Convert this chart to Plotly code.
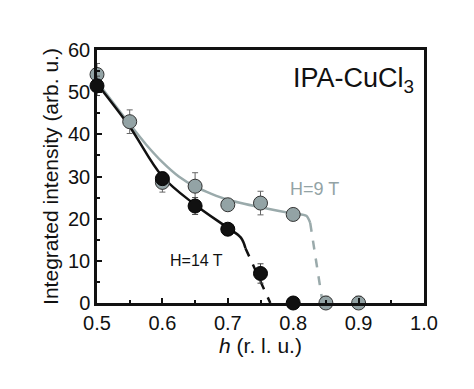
import plotly.graph_objects as go

# measured data
h9 = [0.5, 0.55, 0.6, 0.65, 0.7, 0.75, 0.8, 0.85, 0.9]
i9 = [54.2, 43.0, 28.6, 27.7, 23.3, 23.7, 21.0, 0.0, 0.0]
e9 = [2.6, 2.8, 2.3, 3.2, 1.0, 2.8, 1.3, 1.6, 1.6]

h14 = [0.5, 0.6, 0.65, 0.7, 0.75, 0.8]
i14 = [51.5, 29.5, 23.0, 17.5, 7.0, 0.0]
e14 = [2.3, 1.5, 2.0, 1.0, 2.3, 0.5]

# guide-to-the-eye curves
fit9_h = [0.5, 0.525, 0.55, 0.575, 0.6, 0.625, 0.65, 0.675, 0.7, 0.75, 0.8, 0.82, 0.826]
fit9_i = [52.5, 47.4, 42.4, 37.6, 33.4, 30.0, 27.6, 25.9, 24.5, 22.7, 21.2, 20.7, 19.0]
fit9d_h = [0.826, 0.845]
fit9d_i = [19.0, 0.0]

fit14_h = [0.5, 0.55, 0.6, 0.65, 0.7, 0.72, 0.727]
fit14_i = [52.0, 41.8, 30.0, 23.3, 17.8, 15.5, 13.0]
fit14d_h = [0.727, 0.765]
fit14d_i = [13.0, 0.0]

xticks = [0.5, 0.6, 0.7, 0.8, 0.9, 1.0]
xticklabels = ["0.5", "0.6", "0.7", "0.8", "0.9", "1.0"]
yticks = [0, 10, 20, 30, 40, 50, 60]

GRAY = "#93a3a5"
GRAYLINE = "#9aaaab"

fig = go.Figure()
fig.add_trace(go.Scatter(x=fit9_h, y=fit9_i, mode="lines", line=dict(color=GRAYLINE, width=2.5, shape="spline", smoothing=0.8), hoverinfo="skip"))
fig.add_trace(go.Scatter(x=fit9d_h, y=fit9d_i, mode="lines", line=dict(color=GRAYLINE, width=2.5, dash="dash"), hoverinfo="skip"))
fig.add_trace(go.Scatter(x=fit14_h, y=fit14_i, mode="lines", line=dict(color="#111111", width=2.5, shape="spline"), hoverinfo="skip"))
fig.add_trace(go.Scatter(x=fit14d_h, y=fit14d_i, mode="lines", line=dict(color="#111111", width=2.5, dash="dash"), hoverinfo="skip"))

fig.add_trace(go.Scatter(
    x=h9, y=i9, mode="markers", cliponaxis=False,
    marker=dict(size=14, color=GRAY, line=dict(color="#333333", width=1)),
    error_y=dict(type="data", array=e9, color="#666666", thickness=1, width=3)))
fig.add_trace(go.Scatter(
    x=h14, y=i14, mode="markers", cliponaxis=False,
    marker=dict(size=14, color="#111111", line=dict(color="#000000", width=1)),
    error_y=dict(type="data", array=e14, color="#444444", thickness=1, width=3)))

FONT = "Liberation Sans, Arial, sans-serif"
fig.add_annotation(xref="x", yref="y", x=0.797, y=52.8, xanchor="left", yanchor="middle",
                   text="IPA-CuCl<sub>3</sub>", showarrow=False,
                   font=dict(family=FONT, size=27, color="#111111"))
fig.add_annotation(xref="x", yref="y", x=0.792, y=27.0, xanchor="left", yanchor="middle",
                   text="H=9 T", showarrow=False,
                   font=dict(family=FONT, size=18, color=GRAY))
fig.add_annotation(xref="x", yref="y", x=0.609, y=10.0, xanchor="left", yanchor="middle",
                   text="H=14 T", showarrow=False,
                   font=dict(family=FONT, size=16, color="#111111"))

fig.update_layout(
    width=474, height=389,
    margin=dict(l=97, r=50, t=50, b=86),
    plot_bgcolor="white", paper_bgcolor="white",
    showlegend=False,
    font=dict(family=FONT, size=20, color="#111111"),
)
fig.update_xaxes(
    range=[0.5, 1.0], tickvals=xticks, ticktext=xticklabels,
    ticks="inside", ticklen=5, tickwidth=1.5, tickcolor="#111111",
    minor=dict(ticks="inside", ticklen=3, dtick=0.05, tickcolor="#111111", tickwidth=1.5),
    showline=True, linecolor="#111111", linewidth=2.5, mirror=True,
    showgrid=False, zeroline=False,
    tickfont=dict(size=20),
    title=dict(text="<i>h</i> (r. l. u.)", font=dict(size=21), standoff=6),
)
fig.update_yaxes(
    range=[0, 60], tickvals=yticks,
    ticks="inside", ticklen=5, tickwidth=1.5, tickcolor="#111111",
    minor=dict(ticks="inside", ticklen=3, dtick=5, tickcolor="#111111", tickwidth=1.5),
    showline=True, linecolor="#111111", linewidth=2.5, mirror=True,
    showgrid=False, zeroline=False,
    tickfont=dict(size=20),
    title=dict(text="Integrated intensity (arb. u.)", font=dict(size=21), standoff=4),
)

fig.write_html("out.html", config={"displayModeBar": False},
               post_script="document.body.style.margin='0px';")
